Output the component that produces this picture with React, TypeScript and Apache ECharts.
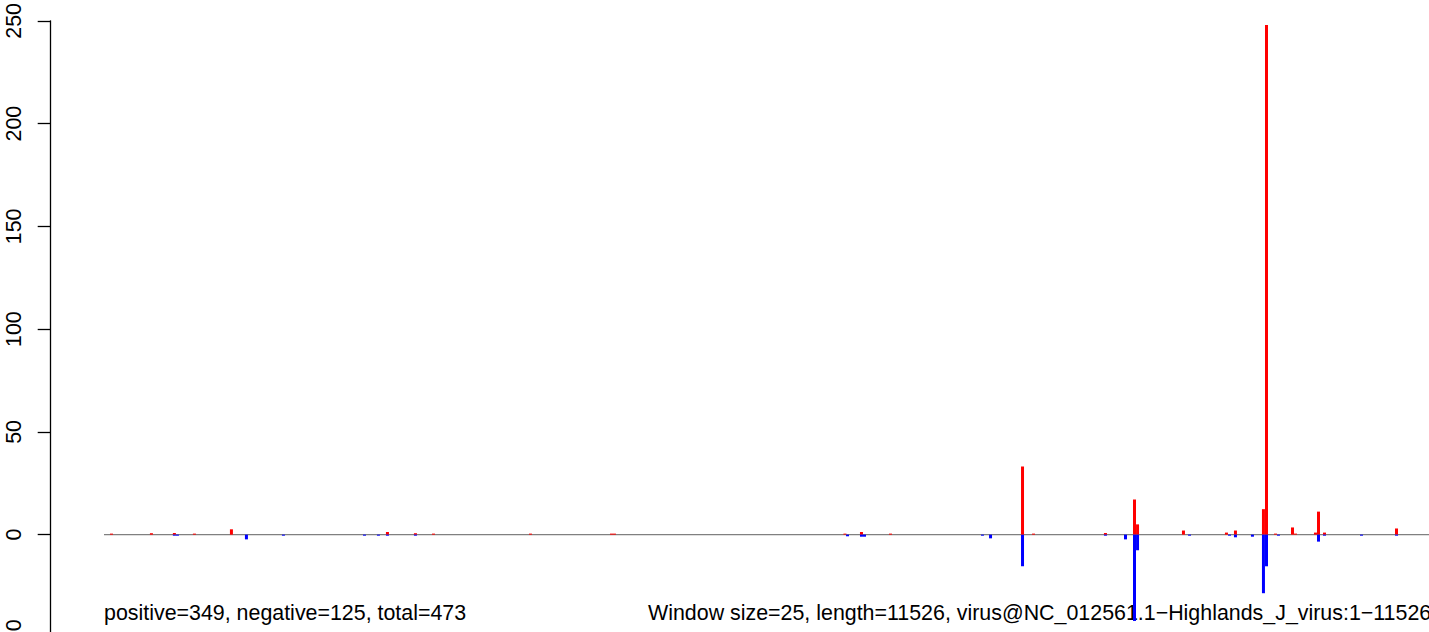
import React, { useEffect, useRef } from "react";
import * as echarts from "echarts";

// Window start positions (bp) and counts
const redPositions = [65, 406, 602, 773, 1089, 2421, 2660, 2814, 3642, 4334, 4359, 6327, 6468, 6716, 7843, 7937, 8551, 8799, 8825, 9217, 9584, 9661, 9900, 9926, 10003, 10148, 10174, 10344, 10370, 10421, 11036];
const redValues = [0.5, 0.7, 0.8, 0.5, 2.6, 1.3, 0.7, 0.5, 0.5, 0.5, 0.5, 0.5, 1.3, 0.5, 33.1, 0.5, 0.8, 17.1, 5, 2, 1, 2, 12.4, 248, 0.5, 3.5, 0.5, 1, 11.2, 1, 3];

const bluePositions = [602, 628, 1217, 1533, 2225, 2344, 2421, 2660, 6349, 6468, 6494, 7501, 7570, 7843, 8551, 8722, 8799, 8825, 9269, 9610, 9661, 9806, 9900, 9926, 10028, 10370, 10421, 10737, 11036];
const blueValues = [-0.5, -0.5, -2.3, -0.5, -0.5, -0.5, -0.5, -0.5, -0.8, -1, -1, -0.5, -1.8, -15.4, -0.5, -2.3, -42, -7.6, -0.5, -0.5, -1.3, -1, -28.5, -15.4, -0.5, -3.4, -0.5, -0.5, -0.5];

const genomeRange = [1, 11526];
const yMin = -50;
const yMax = 250;
const yInterval = 50;

const summaryText = "positive=349, negative=125, total=473";
const windowText = "Window size=25, length=11526, virus@NC_012561.1\u2212Highlands_J_virus:1\u221211526";

const FONT = '"Liberation Sans", Arial, Helvetica, sans-serif';

export default function App() {
  const ref = useRef<HTMLDivElement>(null);

  useEffect(() => {
    const chart = echarts.init(ref.current as HTMLDivElement, null, { renderer: "svg" });
    const red = redPositions.map((p, i) => [p, redValues[i]]);
    const blue = bluePositions.map((p, i) => [p, blueValues[i]]);
    chart.setOption({
      animation: false,
      backgroundColor: "#ffffff",
      grid: { left: 50.7, right: 92.1, top: 19, bottom: 62.6, containLabel: false },
      xAxis: {
        type: "value",
        min: -454,
        max: 11987,
        show: false,
        axisLine: { onZero: false },
        splitLine: { show: false },
      },
      yAxis: {
        type: "value",
        min: yMin,
        max: yMax,
        interval: yInterval,
        axisLine: { show: true, onZero: false, lineStyle: { color: "#000", width: 1.3 } },
        axisTick: { show: true, length: 13, lineStyle: { color: "#000", width: 1.3 } },
        axisLabel: {
          rotate: 90,
          margin: 26,
          color: "#000",
          fontSize: 21.4,
          fontFamily: FONT,
          formatter: (v: number) => (v < 0 ? "\u2212" + Math.abs(v) : String(v)),
        },
        splitLine: { show: false },
      },
      series: [
        {
          type: "line",
          data: [
            [genomeRange[0], 0],
            [genomeRange[1], 0],
          ],
          symbol: "none",
          lineStyle: { color: "#808080", width: 1.2 },
          z: 1,
          silent: true,
        },
        {
          type: "bar",
          data: red,
          barWidth: 3,
          barGap: "-100%",
          itemStyle: { color: "#ff0000" },
          z: 2,
        },
        {
          type: "bar",
          data: blue,
          barWidth: 3,
          barGap: "-100%",
          itemStyle: { color: "#0000ff" },
          z: 2,
        },
      ],
      graphic: [
        {
          type: "text",
          x: 104,
          y: 613,
          style: {
            text: summaryText,
            fontSize: 21.4,
            fontFamily: FONT,
            fill: "#000",
            align: "left",
            verticalAlign: "middle",
          },
        },
        {
          type: "text",
          x: 648,
          y: 613,
          style: {
            text: windowText,
            fontSize: 21.4,
            fontFamily: FONT,
            fill: "#000",
            align: "left",
            verticalAlign: "middle",
          },
        },
      ],
    });
    return () => chart.dispose();
  }, []);

  return (
    <div
      style={{
        position: "fixed",
        left: 0,
        top: 0,
        width: 1429,
        height: 632,
        overflow: "hidden",
        background: "#ffffff",
      }}
    >
      <div ref={ref} style={{ width: 1600, height: 700 }} />
    </div>
  );
}
